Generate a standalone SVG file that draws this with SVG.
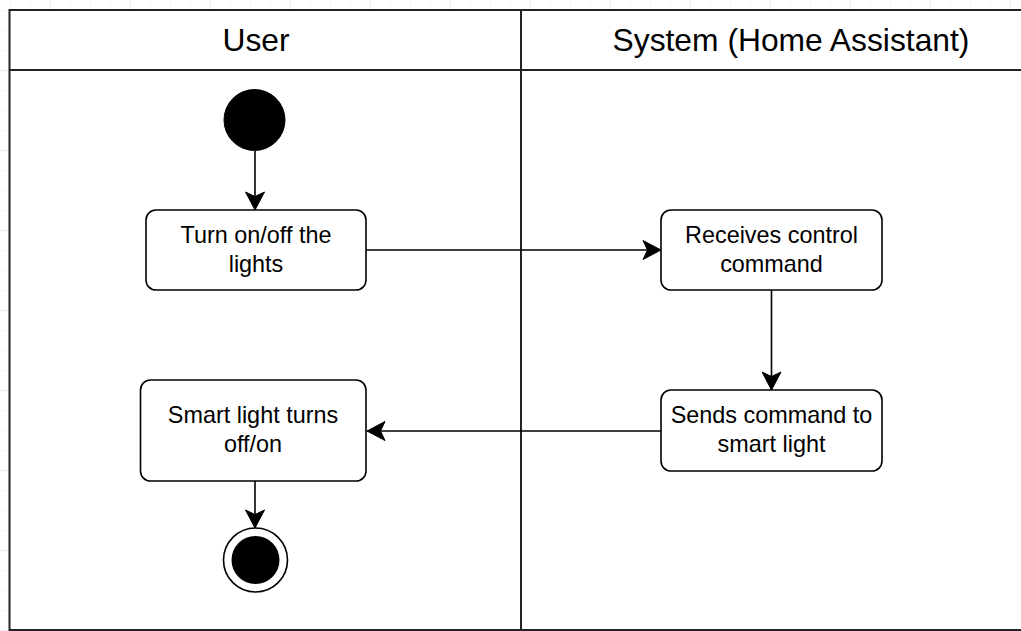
<svg xmlns="http://www.w3.org/2000/svg" width="1021" height="631" viewBox="0 0 1021 631">
  <defs>
    <style>
      .lane { fill: #ffffff; stroke: #222222; stroke-width: 2; }
      .lane-line { stroke: #222222; stroke-width: 2; fill: none; }
      .lane-title { font-family: "Liberation Sans", Arial, sans-serif; font-size: 31.8px; fill: #000000; text-anchor: middle; }
      .action { fill: #ffffff; stroke: #000000; stroke-width: 1.6; }
      .label { font-family: "Liberation Sans", Arial, sans-serif; font-size: 23.4px; fill: #000000; text-anchor: middle; }
      .edge { stroke: #000000; stroke-width: 1.6; fill: none; }
    </style>
    <!-- background grid: minor cells 20px, major cells 80px -->
    <pattern id="gridMinor" x="10" y="10" width="20" height="20" patternUnits="userSpaceOnUse">
      <path d="M0 0 H20 M0 0 V20" stroke="#f0f0f0" stroke-width="1" fill="none"/>
    </pattern>
    <pattern id="gridMajor" x="50" y="70" width="80" height="80" patternUnits="userSpaceOnUse">
      <path d="M0 0 H80 M0 0 V80" stroke="#e2e2e2" stroke-width="1" fill="none"/>
    </pattern>
    <marker id="arrow" viewBox="0 0 20 20" refX="19" refY="10" markerWidth="20" markerHeight="20" markerUnits="userSpaceOnUse" orient="auto">
      <path d="M19 10 L1 0.5 L5.5 10 L1 19.5 Z" fill="#000000" stroke="#000000" stroke-width="1"/>
    </marker>
  </defs>

  <rect x="0" y="0" width="1021" height="631" fill="#ffffff"/>
  <rect x="0" y="0" width="1021" height="631" fill="url(#gridMinor)"/>
  <rect x="0" y="0" width="1021" height="631" fill="url(#gridMajor)"/>

  <!-- swimlane pool -->
  <g id="pool">
    <rect class="lane" x="9.5" y="10" width="1030" height="620"/>
    <line class="lane-line" x1="9.5" y1="70" x2="1040" y2="70"/>
    <line class="lane-line" x1="521" y1="10" x2="521" y2="630"/>
  </g>
  <g id="lane-user">
    <text class="lane-title" x="256" y="51">User</text>
  </g>
  <g id="lane-system">
    <text class="lane-title" x="791" y="51">System (Home Assistant)</text>
  </g>

  <!-- connectors -->
  <g id="connectors">
    <line class="edge" x1="255" y1="151" x2="255" y2="210" marker-end="url(#arrow)"/>
    <line class="edge" x1="366" y1="250" x2="661" y2="250" marker-end="url(#arrow)"/>
    <line class="edge" x1="771.5" y1="290" x2="771.5" y2="390" marker-end="url(#arrow)"/>
    <line class="edge" x1="661" y1="431" x2="367" y2="431" marker-end="url(#arrow)"/>
    <line class="edge" x1="255" y1="481" x2="255" y2="528" marker-end="url(#arrow)"/>
  </g>

  <!-- nodes -->
  <g id="start">
    <circle cx="254.5" cy="120" r="30.5" fill="#000000" stroke="#000000" stroke-width="1"/>
  </g>

  <g id="turn-lights">
    <rect class="action" x="146" y="210" width="220" height="80" rx="10" ry="10"/>
    <text class="label" x="256" y="243">Turn on/off the</text>
    <text class="label" x="256" y="272">lights</text>
  </g>

  <g id="receives-command">
    <rect class="action" x="661" y="210" width="221" height="80" rx="10" ry="10"/>
    <text class="label" x="771.5" y="243">Receives control</text>
    <text class="label" x="771.5" y="272">command</text>
  </g>

  <g id="sends-command">
    <rect class="action" x="661" y="390" width="221" height="81" rx="10" ry="10"/>
    <text class="label" x="771.5" y="423">Sends command to</text>
    <text class="label" x="771.5" y="452">smart light</text>
  </g>

  <g id="light-turns">
    <rect class="action" x="140.5" y="380" width="225.5" height="101" rx="10" ry="10"/>
    <text class="label" x="253" y="423">Smart light turns</text>
    <text class="label" x="253" y="452">off/on</text>
  </g>

  <g id="end">
    <circle cx="255.5" cy="560" r="32" fill="#ffffff" stroke="#000000" stroke-width="1.6"/>
    <circle cx="255.5" cy="560" r="24" fill="#000000"/>
  </g>
</svg>
